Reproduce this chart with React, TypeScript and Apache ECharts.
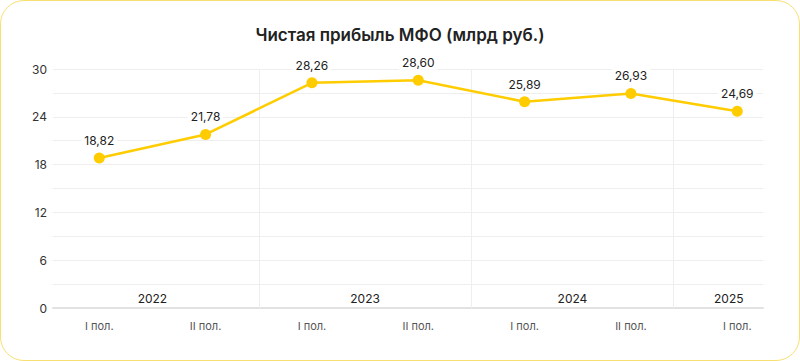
import React, { useEffect, useRef } from "react";
import * as echarts from "echarts";

const halfLabels = ["I пол.", "II пол.", "I пол.", "II пол.", "I пол.", "II пол.", "I пол."];
const halfPositions = [0, 1, 2, 3, 4, 5, 6];
const profitValues = [18.82, 21.78, 28.26, 28.6, 25.89, 26.93, 24.69];
const years = ["2022", "2023", "2024", "2025"];
const yearPositions = [0.5, 2.5, 4.45, 5.92];
const yearBoundaries = [1.5, 3.5, 5.4];
const yTicks = [0, 6, 12, 18, 24, 30];

const X_MIN = -0.435;
const X_MAX = 6.242;

export default function App() {
  const ref = useRef<HTMLDivElement>(null);
  useEffect(() => {
    document.body.style.margin = "0";
    if (!ref.current) return;
    const chart = echarts.init(ref.current, null, { renderer: "svg" });
    const font = "Inter, 'Noto Sans', sans-serif";
    chart.setOption({
      animation: false,
      textStyle: { fontFamily: font },
      title: {
        text: "Чистая прибыль МФО (млрд руб.)",
        left: "center",
        top: 21,
        textStyle: { fontSize: 17, fontWeight: 600, color: "#222", fontFamily: font },
      },
      grid: { left: 53, right: 37, top: 69, bottom: 53, containLabel: false },
      xAxis: [
        {
          type: "value",
          min: X_MIN,
          max: X_MAX,
          axisLine: { show: true, onZero: false, lineStyle: { color: "#e2e2e2", width: 2 } },
          axisTick: { show: false },
          splitLine: { show: false },
          axisLabel: {
            customValues: halfPositions,
            margin: 12,
            fontSize: 11,
            color: "#555",
            fontFamily: font,
            formatter: (v: number) => {
              const i = halfPositions.indexOf(Math.round(v));
              return i >= 0 ? halfLabels[i] : "";
            },
          },
        },
        {
          type: "value",
          min: X_MIN,
          max: X_MAX,
          position: "bottom",
          axisLine: { show: false },
          axisTick: { show: false },
          splitLine: { show: false },
          axisLabel: {
            inside: true,
            customValues: yearPositions,
            margin: 4,
            fontSize: 12,
            fontWeight: "normal",
            color: "#222",
            fontFamily: font,
            formatter: (v: number) => {
              let best = 0;
              yearPositions.forEach((p, i) => {
                if (Math.abs(p - v) < Math.abs(yearPositions[best] - v)) best = i;
              });
              return years[best];
            },
          },
        },
      ],
      yAxis: {
        type: "value",
        min: 0,
        max: 30,
        interval: 3,
        axisLine: { show: false },
        axisTick: { show: false },
        splitLine: { show: true, lineStyle: { color: "#eeeeee", width: 1 } },
        axisLabel: {
          margin: 6,
          fontSize: 12,
          color: "#333",
          fontFamily: font,
          formatter: (v: number) => (yTicks.indexOf(v) >= 0 ? String(v) : ""),
        },
      },
      series: [
        {
          type: "line",
          xAxisIndex: 0,
          data: profitValues.map((v, i) => [halfPositions[i], v]),
          symbol: "circle",
          symbolSize: 11,
          lineStyle: { color: "#FFCC00", width: 2.5 },
          itemStyle: { color: "#FFCC00" },
          label: {
            show: true,
            position: "top",
            distance: 5,
            fontSize: 12,
            color: "#222",
            fontFamily: font,
            backgroundColor: "#fff",
            padding: [1, 3],
            formatter: (p: any) => p.value[1].toFixed(2).replace(".", ","),
          },
          markLine: {
            silent: true,
            symbol: "none",
            label: { show: false },
            lineStyle: { color: "#eeeeee", width: 1, type: "solid" },
            data: yearBoundaries.map((x) => ({ xAxis: x })),
          },
          z: 5,
        },
      ],
    });
    return () => chart.dispose();
  }, []);
  return (
    <div
      style={{
        width: 800,
        height: 361,
        position: "relative",
        boxSizing: "border-box",
        border: "1.5px solid #f8df72",
        borderRadius: 24,
        overflow: "hidden",
        background: "#fff",
      }}
    >
      <div ref={ref} style={{ position: "absolute", left: -1.5, top: -1.5, width: 800, height: 361 }} />
    </div>
  );
}
